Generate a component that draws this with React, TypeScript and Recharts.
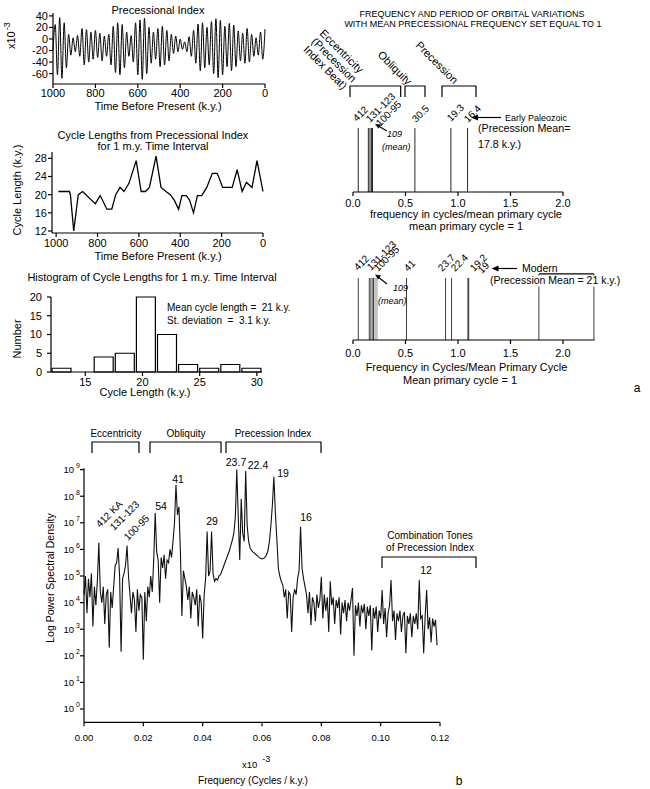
import React from 'react';
import { LineChart, Line, XAxis, YAxis, ComposedChart, Bar, Cell, ReferenceLine } from 'recharts';

const FONT = '"Liberation Sans", Arial, Helvetica, sans-serif';

// Precessional index (x10^-3), successive extremes read from 1000 k.y. to present
const PRECESSION_INDEX = [
  -20, 25, -62, 37, -68, 28, -50, 8, -28, 2,
  -22, 6, -30, 18, -45, 16, -40, 12, -35, 15,
  -32, 10, -38, 5, -30, 8, -45, 22, -58, 28,
  -62, 25, -50, 12, -30, 6, -40, 28, -62, 33,
  -70, 36, -60, 20, -42, 12, -35, 18, -48, 22,
  -45, 15, -38, 8, -25, 5, -22, 0, -18, -5,
  -22, 4, -30, 15, -42, 26, -55, 28, -50, 20,
  -45, 30, -60, 35, -67, 32, -62, 22, -48, 27,
  -55, 24, -48, 14, -38, 10, -42, 18, -40, 8,
  -30, 2, -28, 12, -35, 17,
];
const PRECESSION_SPAN_KY = 1000;

// cycle lengths (k.y.) against time before present (k.y.)
const CYCLE_TIME = [989, 936, 931, 915, 893, 872, 811, 787, 755, 731, 712, 691, 672, 648, 613, 589, 568, 549, 517, 493, 469, 448, 429, 408, 392, 371, 355, 336, 317, 296, 272, 245, 221, 195, 149, 125, 101, 80, 53, 29, 0];
const CYCLE_LENGTH = [20.7, 20.7, 20, 12, 20, 20.7, 18, 19.8, 16.8, 16.8, 20, 21.6, 20.7, 22.5, 27.5, 20.7, 20.7, 21.6, 28.5, 21.6, 20.7, 20, 18.8, 16.8, 19.8, 19.8, 18.8, 16, 19.8, 19.8, 21.6, 24.7, 24.7, 21.6, 21.6, 25.5, 20.7, 22.7, 21.6, 27.5, 20.7];

// histogram of cycle lengths
const HIST_EDGES = [12.0, 13.845, 15.69, 17.535, 19.38, 21.225, 23.07, 24.915, 26.76, 28.605, 30.45];
const HIST_COUNTS = [1, 0, 4, 5, 20, 10, 2, 1, 2, 1];

// frequency lines (cycles / mean primary cycle)
const PALEOZOIC_FREQ = [0.05, 0.146, 0.162, 0.178, 0.187, 0.59, 0.933, 1.092];
const MODERN_FREQ = [0.05, 0.155, 0.171, 0.19, 0.198, 0.51, 0.883, 0.94, 1.095, 1.103, 1.771, 2.295];
const MODERN_HEIGHT = [1, 1, 1, 1, 1, 1, 1, 1, 1, 1, 1.065, 1.065];
const MODERN_BEAT_FREQ = [0.21, 0.22, 0.23];

// power spectrum, log10 power every 0.0005 (x10^-3 cycles / k.y.)
const SPEC_STEP = 0.0005;
const SPECTRUM_LOG = [
  4.3, 5.0, 3.6, 4.9, 4.2, 5.1, 3.1, 4.6, 3.9, 4.8,
  6.25, 4.4, 4.0, 4.6, 3.2, 4.3, 4.5, 2.3, 4.4, 3.8,
  4.6, 5.4, 5.5, 6.05, 5.0, 2.15, 4.9, 5.1, 5.4, 6.15,
  5.0, 4.3, 3.6, 4.4, 4.1, 2.9, 4.5, 3.7, 4.3, 4.2,
  1.85, 4.4, 3.3, 4.6, 4.2, 5.0, 4.4, 5.6, 7.37, 5.9,
  5.6, 4.0, 5.7, 5.3, 5.8, 4.9, 5.6, 5.5, 6.0, 5.7,
  6.3, 7.0, 8.42, 7.3, 7.6, 5.9, 3.5, 5.2, 4.9, 4.6,
  4.1, 4.6, 3.4, 4.4, 4.2, 3.9, 4.5, 3.1, 4.3, 4.0,
  2.65, 4.3, 4.9, 6.67, 5.0, 5.2, 6.67, 5.1, 4.8, 4.9,
  4.85, 5.0, 5.05, 5.2, 5.35, 5.5, 5.65, 5.8, 5.95, 6.15,
  6.35, 6.6, 7.2, 9.0, 7.2, 5.6, 7.9, 6.6, 6.3, 8.95,
  6.9, 6.3, 6.05, 5.96, 5.9, 5.86, 5.8, 5.76, 5.7, 5.67,
  5.64, 5.66, 5.7, 5.78, 5.95, 6.3, 6.9, 7.67, 8.73, 7.4,
  6.4, 5.3, 5.0, 4.8, 4.66, 4.2, 4.5, 3.4, 4.4, 4.3,
  2.9, 4.2, 4.5, 4.3, 4.9, 5.2, 6.85, 5.3, 4.9, 4.6,
  4.3, 3.6, 4.4, 3.15, 4.2, 4.0, 3.3, 4.3, 3.8, 4.1,
  4.97, 3.4, 4.3, 3.7, 4.2, 2.9, 4.8, 3.9, 4.2, 3.2,
  4.1, 3.8, 4.2, 2.8, 4.0, 3.6, 4.1, 3.3, 4.0, 3.7,
  4.1, 4.55, 2.0, 3.9, 3.5, 4.0, 3.1, 3.9, 3.6, 3.95,
  3.0, 3.85, 3.5, 3.9, 2.2, 3.8, 3.4, 3.85, 2.9, 3.7,
  3.4, 4.47, 3.2, 3.8, 2.7, 3.6, 3.9, 4.85, 3.3, 3.7,
  2.6, 3.6, 3.3, 3.7, 2.9, 3.5, 3.65, 2.1, 3.5, 3.2,
  3.6, 2.7, 3.5, 3.2, 3.6, 3.0, 4.85, 3.4, 3.5, 2.1,
  3.5, 4.47, 3.0, 3.45, 2.5, 3.4, 3.1, 3.35, 2.4,
];
const SPEC_DECADES = [0, 1, 2, 3, 4, 5, 6, 7, 8, 9];

const precData = PRECESSION_INDEX.map((v, i) => ({
  t: PRECESSION_SPAN_KY - (i * PRECESSION_SPAN_KY) / (PRECESSION_INDEX.length - 1),
  v,
}));
const cycleData = CYCLE_TIME.map((t, i) => ({ t, len: CYCLE_LENGTH[i] }));
const histData = HIST_COUNTS.map((n, i) => ({ mid: (HIST_EDGES[i] + HIST_EDGES[i + 1]) / 2, n }));
const paleoData = PALEOZOIC_FREQ.map((f) => ({ f, h: 1, beat: false }));
const modernData = [
  ...MODERN_FREQ.map((f, i) => ({ f, h: MODERN_HEIGHT[i], beat: false })),
  ...MODERN_BEAT_FREQ.map((f) => ({ f, h: 1, beat: true })),
];
const specData = SPECTRUM_LOG.map((p, i) => ({ f: +(i * SPEC_STEP).toFixed(4), p }));

const axisStyle = { stroke: '#000', strokeWidth: 1.2 };
const tick11 = { fontSize: 11, fill: '#000' };

const HIST_PLOT_W = 211;
const histBarSize =
  ((HIST_EDGES[1] - HIST_EDGES[0]) / (HIST_EDGES[HIST_EDGES.length - 1] - HIST_EDGES[0])) * HIST_PLOT_W;

const PowerTick = (props: any) => {
  const { x, y, payload } = props;
  return (
    <text x={x} y={y} dy={3.5} textAnchor="end" fontSize={9.5} fill="#000">
      10
      <tspan dx={2} dy={-5} fontSize={7}>
        {payload.value}
      </tspan>
    </text>
  );
};

const Bracket = ({ x1, x2, y, leg }: { x1: number; x2: number; y: number; leg: number }) => (
  <path d={`M${x1},${y + leg} L${x1},${y} L${x2},${y} L${x2},${y + leg}`} fill="none" stroke="#000" strokeWidth={1.2} />
);

const ArrowLeft = ({ x1, x2, y }: { x1: number; x2: number; y: number }) => (
  <g>
    <line x1={x1} y1={y} x2={x2 + 5} y2={y} stroke="#000" strokeWidth={1.2} />
    <polygon points={`${x2},${y} ${x2 + 7},${y - 3} ${x2 + 7},${y + 3}`} fill="#000" />
  </g>
);

const Rot = ({ x, y, a, size = 10, children }: { x: number; y: number; a: number; size?: number; children: React.ReactNode }) => (
  <text transform={`translate(${x},${y}) rotate(${a})`} fontSize={size} fill="#000">
    {children}
  </text>
);

export default function App() {
  return (
    <div style={{ position: 'absolute', left: 0, top: 0, width: 650, height: 789, background: '#fff', fontFamily: FONT, overflow: 'hidden' }}>
      {/* precessional index */}
      <div style={{ position: 'absolute', left: 0, top: 0 }}>
        <LineChart width={275} height={104} data={precData} margin={{ top: 13, right: 10, bottom: 0, left: 0 }}>
          <XAxis dataKey="t" type="number" domain={[0, 1000]} reversed ticks={[0, 200, 400, 600, 800, 1000]} interval={0} height={20} tick={tick11} tickSize={4} tickMargin={1} axisLine={axisStyle} tickLine={axisStyle} />
          <YAxis type="number" domain={[-78, 45]} ticks={[-60, -40, -20, 0, 20, 40]} interval={0} width={53} tick={tick11} tickSize={4} tickMargin={1} axisLine={axisStyle} tickLine={axisStyle} />
          <Line dataKey="v" type="monotone" stroke="#000" strokeWidth={1} dot={false} isAnimationActive={false} />
        </LineChart>
      </div>

      {/* cycle lengths */}
      <div style={{ position: 'absolute', left: 0, top: 140 }}>
        <LineChart width={273} height={113} data={cycleData} margin={{ top: 12, right: 10, bottom: 0, left: 0 }}>
          <XAxis dataKey="t" type="number" domain={[0, 1020]} reversed ticks={[0, 200, 400, 600, 800, 1000]} interval={0} height={20} tick={tick11} tickSize={4} tickMargin={2.5} axisLine={axisStyle} tickLine={axisStyle} />
          <YAxis type="number" domain={[11.56, 29.4]} ticks={[12, 16, 20, 24, 28]} interval={0} width={52} tick={tick11} tickSize={4} tickMargin={1} axisLine={axisStyle} tickLine={axisStyle} />
          <Line dataKey="len" type="linear" stroke="#000" strokeWidth={1.3} dot={false} isAnimationActive={false} />
        </LineChart>
      </div>

      {/* histogram */}
      <div style={{ position: 'absolute', left: 0, top: 285 }}>
        <ComposedChart width={270} height={107} data={histData} margin={{ top: 12, right: 8, bottom: 0, left: 0 }}>
          <XAxis dataKey="mid" type="number" domain={[HIST_EDGES[0], HIST_EDGES[HIST_EDGES.length - 1]]} ticks={[15, 20, 25, 30]} interval={0} height={20} tick={tick11} tickSize={4} tickMargin={1.7} axisLine={axisStyle} tickLine={axisStyle} />
          <YAxis type="number" domain={[0, 20]} ticks={[0, 5, 10, 15, 20]} interval={0} width={51} tick={tick11} tickSize={4} tickMargin={5} axisLine={axisStyle} tickLine={axisStyle} />
          <Bar dataKey="n" barSize={histBarSize} fill="#fff" stroke="#000" strokeWidth={1.2} isAnimationActive={false} />
        </ComposedChart>
      </div>

      {/* early paleozoic frequencies */}
      <div style={{ position: 'absolute', left: 340, top: 110 }}>
        <ComposedChart width={243} height={102} data={paleoData} margin={{ top: 18, right: 20, bottom: 0, left: 13 }}>
          <XAxis dataKey="f" type="number" domain={[0, 2]} ticks={[0, 0.5, 1, 1.5, 2]} interval={0} tickFormatter={(v: number) => v.toFixed(1)} height={20} tick={tick11} tickSize={4} tickMargin={3} axisLine={axisStyle} tickLine={axisStyle} />
          <YAxis hide type="number" domain={[0, 1]} />
          <Bar dataKey="h" barSize={1.3} fill="#000" isAnimationActive={false} />
        </ComposedChart>
      </div>

      {/* modern frequencies */}
      <div style={{ position: 'absolute', left: 340, top: 255 }}>
        <ComposedChart width={275} height={105} data={modernData} margin={{ top: 16.8, right: 20.5, bottom: 0, left: 13 }}>
          <XAxis dataKey="f" type="number" domain={[0, 2.3]} ticks={[0, 0.5, 1, 1.5, 2]} interval={0} tickFormatter={(v: number) => v.toFixed(1)} height={20} tick={tick11} tickSize={4} tickMargin={5} axisLine={axisStyle} tickLine={axisStyle} />
          <YAxis hide type="number" domain={[0, 1.1]} />
          <Bar dataKey="h" barSize={1.3} isAnimationActive={false}>
            {modernData.map((d, i) => (
              <Cell key={i} fill={d.beat ? '#999' : '#000'} />
            ))}
          </Bar>
          <ReferenceLine segment={[{ x: MODERN_FREQ[10], y: MODERN_HEIGHT[10] }, { x: MODERN_FREQ[11], y: MODERN_HEIGHT[11] }]} stroke="#000" strokeWidth={1.2} />
        </ComposedChart>
      </div>

      {/* power spectrum */}
      <div style={{ position: 'absolute', left: 0, top: 455 }}>
        <LineChart width={450} height={287.3} data={specData} margin={{ top: 13.3, right: 10, bottom: 0, left: 0 }}>
          <XAxis dataKey="f" type="number" domain={[0, 0.12]} ticks={[0, 0.02, 0.04, 0.06, 0.08, 0.1, 0.12]} interval={0} tickFormatter={(v: number) => v.toFixed(2)} height={20} tick={{ fontSize: 9.5, fill: '#000' }} tickSize={4} tickMargin={8} axisLine={axisStyle} tickLine={axisStyle} />
          <YAxis type="number" domain={[-0.5, 9.05]} ticks={SPEC_DECADES} interval={0} width={84} tick={<PowerTick />} tickSize={4} tickMargin={0} axisLine={axisStyle} tickLine={axisStyle} />
          <Line dataKey="p" type="linear" stroke="#111" strokeWidth={1.1} dot={false} isAnimationActive={false} />
        </LineChart>
      </div>

      <svg width={650} height={789} style={{ position: 'absolute', left: 0, top: 0, pointerEvents: 'none' }} fontFamily={FONT}>
        {/* top-left panels */}
        <text x={158} y={14} textAnchor="middle" fontSize={11}>Precessional Index</text>
        <text transform="translate(15,49) rotate(-90)" fontSize={11}>
          x10<tspan dx={1} dy={-5} fontSize={9}>-3</tspan>
        </text>
        <text x={158} y={109.5} textAnchor="middle" fontSize={11}>Time Before Present (k.y.)</text>

        <text x={153} y={139} textAnchor="middle" fontSize={11}>Cycle Lengths from Precessional Index</text>
        <text x={153} y={150} textAnchor="middle" fontSize={11}>for 1 m.y. Time Interval</text>
        <text transform="translate(21,190) rotate(-90)" textAnchor="middle" fontSize={11}>Cycle Length (k.y.)</text>
        <text x={158} y={260} textAnchor="middle" fontSize={11}>Time Before Present (k.y.)</text>

        <text x={152} y={281} textAnchor="middle" fontSize={11}>Histogram of Cycle Lengths for 1 m.y. Time Interval</text>
        <text transform="translate(21,339) rotate(-90)" textAnchor="middle" fontSize={11}>Number</text>
        <text x={167} y={311} fontSize={10} style={{ whiteSpace: 'pre' }}>Mean cycle length =  21 k.y.</text>
        <text x={167} y={324} fontSize={10} style={{ whiteSpace: 'pre' }}>St. deviation  =  3.1 k.y.</text>
        <text x={145} y={396} textAnchor="middle" fontSize={11}>Cycle Length (k.y.)</text>

        {/* top-right panel */}
        <text x={472} y={16.6} textAnchor="middle" fontSize={9}>FREQUENCY AND PERIOD OF ORBITAL VARIATIONS</text>
        <text x={473} y={27.3} textAnchor="middle" fontSize={9}>WITH MEAN PRECESSIONAL FREQUENCY SET EQUAL TO 1</text>
        <text transform="translate(319,34) rotate(45)" fontSize={11}>
          <tspan x={0} dy={0}>Eccentricity</tspan>
          <tspan x={0} dy={11.5}>(Precession</tspan>
          <tspan x={0} dy={11.5}>Index Beat)</tspan>
        </text>
        <Rot x={377} y={55.5} a={45} size={11}>Obliquity</Rot>
        <Rot x={415} y={46} a={45} size={11}>Precession</Rot>
        <Bracket x1={350} x2={400.7} y={86} leg={11} />
        <Bracket x1={405} x2={425} y={86} leg={11} />
        <Bracket x1={442} x2={476} y={86} leg={11} />
        <Rot x={357} y={122} a={-45}>412</Rot>
        <Rot x={370} y={123} a={-45}>131-123</Rot>
        <Rot x={380} y={127} a={-45}>100-95</Rot>
        <Rot x={416} y={123} a={-45}>30.5</Rot>
        <Rot x={451} y={122} a={-45}>19.3</Rot>
        <Rot x={468} y={123} a={-45}>16.4</Rot>
        <ArrowLeft x1={501} x2={471} y={117.5} />
        <text x={505} y={121} fontSize={9}>Early Paleozoic</text>
        <text x={478} y={132} fontSize={10.7}>(Precession Mean=</text>
        <text x={478} y={148} fontSize={10.7}>17.8 k.y.)</text>
        <line x1={387} y1={131} x2={377.5} y2={125.5} stroke="#000" strokeWidth={1.1} />
        <polygon points="375,124 381,124.5 378.5,128.5" fill="#000" />
        <text x={387} y={137} fontSize={9} fontStyle="italic">109</text>
        <text x={382} y={149.5} fontSize={9} fontStyle="italic">(mean)</text>
        <text x={466} y={218} textAnchor="middle" fontSize={11}>frequency in cycles/mean primary cycle</text>
        <text x={466} y={230} textAnchor="middle" fontSize={11}>mean primary cycle = 1</text>

        <Rot x={358} y={271} a={-45}>412</Rot>
        <Rot x={371} y={271} a={-45}>131-123</Rot>
        <Rot x={378} y={272} a={-45}>100-95</Rot>
        <Rot x={408} y={272} a={-45}>41</Rot>
        <Rot x={442} y={272} a={-45}>23.7</Rot>
        <Rot x={455} y={272} a={-45}>22.4</Rot>
        <Rot x={474} y={272} a={-45}>19.2</Rot>
        <Rot x={482} y={274} a={-45}>19</Rot>
        <ArrowLeft x1={517} x2={491.5} y={268.5} />
        <text x={522} y={272} fontSize={10.5}>Modern</text>
        <rect x={489} y={275.5} width={140} height={11} fill="#fff" />
        <text x={490} y={284} fontSize={10.5}>(Precession Mean = 21 k.y.)</text>
        <line x1={387} y1={284} x2={377.5} y2={276.5} stroke="#000" strokeWidth={1.1} />
        <polygon points="375,274.5 381,275.5 378,279.5" fill="#000" />
        <text x={393} y={291} fontSize={9} fontStyle="italic">109</text>
        <text x={378} y={303.5} fontSize={9} fontStyle="italic">(mean)</text>
        <text x={466.5} y={371} textAnchor="middle" fontSize={11}>Frequency in Cycles/Mean Primary Cycle</text>
        <text x={460} y={384} textAnchor="middle" fontSize={11}>Mean primary cycle = 1</text>
        <text x={637} y={392} textAnchor="middle" fontSize={12}>a</text>

        {/* spectrum panel */}
        <text x={116} y={437} textAnchor="middle" fontSize={10}>Eccentricity</text>
        <text x={186} y={437} textAnchor="middle" fontSize={10}>Obliquity</text>
        <text x={273} y={437} textAnchor="middle" fontSize={10}>Precession Index</text>
        <Bracket x1={92} x2={139} y={442} leg={11} />
        <Bracket x1={150} x2={221} y={442} leg={11} />
        <Bracket x1={226} x2={321} y={442} leg={11} />
        <text x={236} y={466} textAnchor="middle" fontSize={10.5}>23.7</text>
        <text x={258} y={469} textAnchor="middle" fontSize={10.5}>22.4</text>
        <text x={283} y={477} textAnchor="middle" fontSize={10.5}>19</text>
        <text x={178} y={483} textAnchor="middle" fontSize={10.5}>41</text>
        <text x={161} y={510} textAnchor="middle" fontSize={10.5}>54</text>
        <text x={212} y={525} textAnchor="middle" fontSize={10.5}>29</text>
        <text x={306} y={521} textAnchor="middle" fontSize={10.5}>16</text>
        <Rot x={100} y={528} a={-45} size={10}>412 KA</Rot>
        <Rot x={114} y={531} a={-45} size={10}>131-123</Rot>
        <Rot x={128} y={541} a={-45} size={10}>100-95</Rot>
        <text x={430} y={539} textAnchor="middle" fontSize={10}>Combination Tones</text>
        <text x={430} y={550.5} textAnchor="middle" fontSize={10}>of Precession Index</text>
        <Bracket x1={382} x2={476} y={557} leg={11} />
        <text x={426} y={574} textAnchor="middle" fontSize={10.5}>12</text>
        <text transform="translate(54,578) rotate(-90)" textAnchor="middle" fontSize={10.5}>Log Power Spectral Density</text>
        <text x={242} y={768} fontSize={9.5}>
          x10<tspan dx={5} dy={-6} fontSize={9}>-3</tspan>
        </text>
        <text x={253} y={784} textAnchor="middle" fontSize={10}>Frequency (Cycles / k.y.)</text>
        <text x={459} y={785} textAnchor="middle" fontSize={12}>b</text>
      </svg>
    </div>
  );
}
